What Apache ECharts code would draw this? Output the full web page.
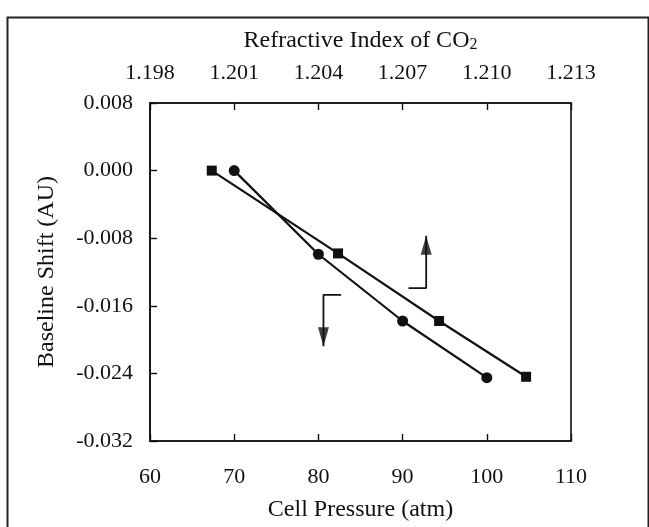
<!DOCTYPE html>
<html>
<head>
<meta charset="utf-8">
<script src="https://cdn.jsdelivr.net/npm/echarts@6/dist/echarts.min.js"></script>
<style>html,body{margin:0;padding:0;background:#fff;}#c{width:649px;height:527px;}</style>
</head>
<body>
<div id="c"></div>
<script>
// Circle series: baseline shift vs cell pressure (bottom axis)
const pressure = [70, 80, 90, 100];
const shiftVsPressure = [0.0000, -0.0099, -0.0178, -0.0245];
// Square series: baseline shift vs refractive index of CO2 (top axis)
const refractiveIndex = [1.2002, 1.2047, 1.2083, 1.2114];
const shiftVsIndex = [0.0000, -0.0098, -0.0178, -0.0244];
// Axis ticks
const pressureTicks = [60, 70, 80, 90, 100, 110];
const indexTicks = [1.198, 1.201, 1.204, 1.207, 1.210, 1.213];
const shiftTicks = [0.008, 0.000, -0.008, -0.016, -0.024, -0.032];
// Arrow annotations (pressure, shift): shaft path, last point is the tip
const arrowDownPath = [[82.7, -0.0147], [80.6, -0.0147], [80.6, -0.0208]];
const arrowUpPath = [[90.7, -0.0139], [92.8, -0.0139], [92.8, -0.0077]];

const FONT = 'Liberation Serif';
const INK = '#111';

const chart = echarts.init(document.getElementById('c'), null, {renderer: 'canvas'});
const option = {
  animation: false,
  backgroundColor: '#fff',
  textStyle: {fontFamily: FONT, color: INK},
  graphic: [{
    type: 'rect', left: 5, top: 15, silent: true,
    shape: {width: 641, height: 620},
    style: {fill: 'none', stroke: '#222', lineWidth: 2}
  }],
  grid: {left: 150, right: 78, top: 103, height: 340, show: true, borderColor: INK, borderWidth: 1.6, backgroundColor: 'transparent'},
  xAxis: [{
    type: 'value', position: 'bottom',
    min: pressureTicks[0], max: pressureTicks[pressureTicks.length - 1], interval: 10,
    name: 'Cell Pressure (atm)', nameLocation: 'middle', nameGap: 57,
    nameTextStyle: {fontFamily: FONT, fontSize: 24, color: INK},
    axisLine: {show: true, onZero: false, lineStyle: {color: INK, width: 1.6}},
    axisTick: {show: true, inside: true, length: 7, lineStyle: {color: INK, width: 1.4}},
    axisLabel: {fontFamily: FONT, fontSize: 22, color: INK, margin: 25},
    splitLine: {show: false}
  }, {
    type: 'value', position: 'top',
    min: indexTicks[0], max: indexTicks[indexTicks.length - 1], interval: 0.003,
    name: 'Refractive Index of CO{s|2}', nameLocation: 'middle', nameGap: 50,
    nameTextStyle: {fontFamily: FONT, fontSize: 24, color: INK,
      rich: {s: {fontFamily: FONT, fontSize: 16, color: INK, verticalAlign: 'bottom', lineHeight: 12}}},
    axisLine: {show: true, onZero: false, lineStyle: {color: INK, width: 1.6}},
    axisTick: {show: true, inside: true, length: 7, lineStyle: {color: INK, width: 1.4}},
    axisLabel: {fontFamily: FONT, fontSize: 22, color: INK, margin: 19,
      formatter: v => Number(v).toFixed(3)},
    splitLine: {show: false}
  }],
  yAxis: [{
    type: 'value',
    min: shiftTicks[shiftTicks.length - 1], max: shiftTicks[0], interval: 0.008,
    name: 'Baseline Shift (AU)', nameLocation: 'middle', nameGap: 91,
    nameTextStyle: {fontFamily: FONT, fontSize: 24, color: INK},
    axisLine: {show: true, onZero: false, lineStyle: {color: INK, width: 1.6}},
    axisTick: {show: true, inside: true, length: 7, lineStyle: {color: INK, width: 1.4}},
    axisLabel: {fontFamily: FONT, fontSize: 22, color: INK, margin: 17,
      formatter: v => Number(v).toFixed(3)},
    splitLine: {show: false}
  }],
  series: [{
    type: 'line', name: 'pressure', xAxisIndex: 0, yAxisIndex: 0,
    data: pressure.map((p, i) => [p, shiftVsPressure[i]]),
    symbol: 'circle', symbolSize: 11, showAllSymbol: true,
    itemStyle: {color: INK},
    lineStyle: {color: INK, width: 2.2}
  }, {
    type: 'line', name: 'index', xAxisIndex: 1, yAxisIndex: 0,
    data: refractiveIndex.map((n, i) => [n, shiftVsIndex[i]]),
    symbol: 'rect', symbolSize: 10, showAllSymbol: true,
    itemStyle: {color: INK},
    lineStyle: {color: INK, width: 2.2}
  }, {
    type: 'line', xAxisIndex: 0, yAxisIndex: 0, silent: true,
    data: arrowDownPath, symbol: 'none',
    lineStyle: {color: INK, width: 1.8}
  }, {
    type: 'line', xAxisIndex: 0, yAxisIndex: 0, silent: true,
    data: arrowUpPath, symbol: 'none',
    lineStyle: {color: INK, width: 1.8}
  }, {
    type: 'scatter', xAxisIndex: 0, yAxisIndex: 0, silent: true,
    data: [arrowDownPath[arrowDownPath.length - 1]],
    symbol: 'triangle', symbolSize: [11, 19], symbolRotate: 180, symbolOffset: [0, '-50%'],
    itemStyle: {color: INK}
  }, {
    type: 'scatter', xAxisIndex: 0, yAxisIndex: 0, silent: true,
    data: [arrowUpPath[arrowUpPath.length - 1]],
    symbol: 'triangle', symbolSize: [11, 19], symbolOffset: [0, '50%'],
    itemStyle: {color: INK}
  }]
};
chart.setOption(option);
</script>
</body>
</html>
